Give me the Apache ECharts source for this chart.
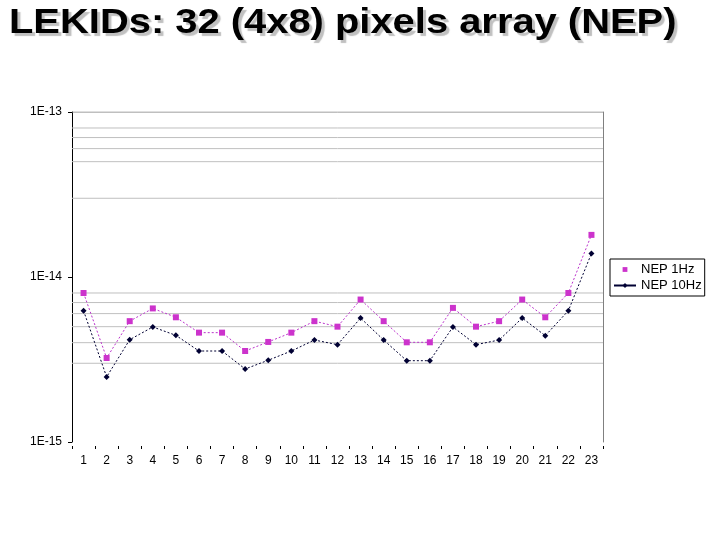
<!DOCTYPE html>
<html>
<head>
<meta charset="utf-8">
<script src="https://cdn.jsdelivr.net/npm/echarts@6/dist/echarts.min.js"></script>
<style>html,body{margin:0;padding:0;background:#fff}#c{width:720px;height:540px}</style>
</head>
<body>
<div id="c"></div>
<script>
var titleText = 'LEKIDs: 32 (4x8) pixels array (NEP)';
var categories = ['1','2','3','4','5','6','7','8','9','10','11','12','13','14','15','16','17','18','19','20','21','22','23'];
var nep1Hz = [8.0e-15, 3.23e-15, 5.4e-15, 6.45e-15, 5.7e-15, 4.6e-15, 4.6e-15, 3.56e-15, 4.04e-15, 4.6e-15, 5.4e-15, 5.0e-15, 7.3e-15, 5.4e-15, 4.02e-15, 4.02e-15, 6.5e-15, 5.0e-15, 5.4e-15, 7.3e-15, 5.7e-15, 8.0e-15, 1.8e-14];
var nep10Hz = [6.25e-15, 2.48e-15, 4.17e-15, 4.98e-15, 4.43e-15, 3.56e-15, 3.56e-15, 2.77e-15, 3.13e-15, 3.56e-15, 4.15e-15, 3.89e-15, 5.64e-15, 4.15e-15, 3.11e-15, 3.11e-15, 4.98e-15, 3.89e-15, 4.15e-15, 5.64e-15, 4.41e-15, 6.25e-15, 1.39e-14];
var yMin = 1e-15, yMax = 1e-13;
var yTickLabels = {'-15': '1E-15', '-14': '1E-14', '-13': '1E-13'};
var gridValues = [3e-15, 4e-15, 5e-15, 6e-15, 7e-15, 8e-15, 3e-14, 5e-14, 6e-14, 7e-14, 8e-14];
var borderValue = 1e-13;
var seriesNames = ['NEP 1Hz', 'NEP 10Hz'];

var font = 'Arial, "Liberation Sans", sans-serif';
var chart = echarts.init(document.getElementById('c'), null, {renderer: 'canvas'});

var gridSeries = gridValues.map(function (v) {
  return {
    type: 'line', xAxisIndex: 1, yAxisIndex: 0, silent: true, z: 1,
    symbol: 'none', data: [[0, v], [1, v]],
    lineStyle: {color: '#c0c0c0', width: 1, type: 'solid'}
  };
});
gridSeries.push({
  type: 'line', xAxisIndex: 1, yAxisIndex: 0, silent: true, z: 1,
  symbol: 'none', data: [[0, borderValue], [1, borderValue]],
  lineStyle: {color: '#808080', width: 1, type: 'solid'}
});

var option = {
  animation: false,
  backgroundColor: '#fff',
  graphic: [{
    type: 'text',
    left: 9,
    top: 6,
    scaleX: 1.14,
    style: {
      text: titleText,
      font: 'bold 35px ' + font,
      fill: '#000',
      textShadowColor: 'rgba(150,150,150,0.6)',
      textShadowOffsetX: 3,
      textShadowOffsetY: 3,
      textShadowBlur: 1
    }
  }],
  grid: {left: 72, right: 117, top: 112, bottom: 98, containLabel: false},
  legend: {
    orient: 'vertical',
    left: 610,
    top: 259,
    padding: [4, 3, 4, 3],
    itemGap: 3,
    itemWidth: 22,
    itemHeight: 6,
    borderColor: '#000',
    borderWidth: 1,
    borderRadius: 0,
    textStyle: {fontSize: 13, fontFamily: font, color: '#000'},
    data: [
      {name: seriesNames[0], lineStyle: {opacity: 0}},
      {name: seriesNames[1], lineStyle: {type: 'solid'}}
    ]
  },
  xAxis: [{
    type: 'category',
    data: categories,
    boundaryGap: true,
    offset: 4,
    axisLine: {show: false},
    axisTick: {show: true, length: 3, lineStyle: {color: '#000'}},
    axisLabel: {margin: 9, fontSize: 12, fontFamily: font, color: '#000'},
    splitLine: {show: false}
  }, {
    type: 'value',
    min: 0,
    max: 1,
    show: false
  }],
  yAxis: [{
    type: 'log',
    logBase: 10,
    min: yMin,
    max: yMax,
    axisLine: {show: true, lineStyle: {color: '#000', width: 1}},
    axisTick: {show: true, length: 4, lineStyle: {color: '#000'}},
    axisLabel: {
      margin: 10, fontSize: 12, fontFamily: font, color: '#000',
      formatter: function (v) { return yTickLabels[String(Math.round(Math.log10(v)))] || ''; }
    },
    splitLine: {show: false},
    minorTick: {show: false}
  }, {
    type: 'log',
    logBase: 10,
    min: yMin,
    max: yMax,
    position: 'right',
    axisLine: {show: true, lineStyle: {color: '#808080', width: 1}},
    axisTick: {show: false},
    axisLabel: {show: false},
    splitLine: {show: false}
  }],
  series: gridSeries.concat([{
    name: seriesNames[0],
    type: 'line',
    data: nep1Hz,
    z: 3,
    symbol: 'rect',
    symbolSize: 6,
    itemStyle: {color: '#cc33cc'},
    lineStyle: {color: '#bb33cc', width: 1, type: [2, 2]}
  }, {
    name: seriesNames[1],
    type: 'line',
    data: nep10Hz,
    z: 3,
    symbol: 'diamond',
    symbolSize: 6,
    itemStyle: {color: '#000033'},
    lineStyle: {color: '#000033', width: 1, type: [2, 2]}
  }])
};
chart.setOption(option);
</script>
</body>
</html>
